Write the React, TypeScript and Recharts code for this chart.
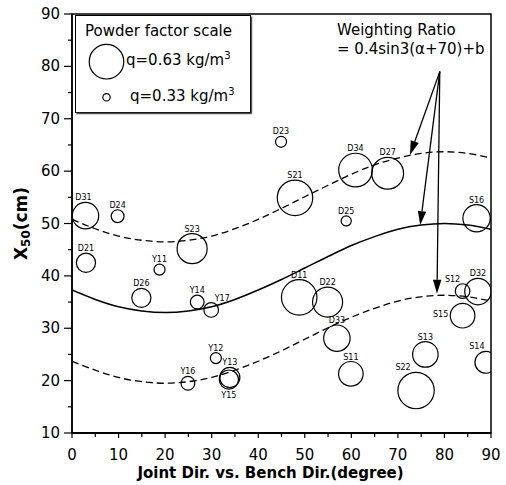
import React from 'react';
import {
  ComposedChart,
  XAxis,
  YAxis,
  Line,
  Scatter,
  ReferenceLine,
  ReferenceArea,
  Legend,
  Customized,
} from 'recharts';

const FONT = '"DejaVu Sans", sans-serif';

// blast records
const blastIds = ['D31', 'D24', 'D21', 'Y11', 'D26', 'S23', 'Y14', 'Y17', 'Y16', 'Y12', 'Y13', 'Y15', 'D23', 'S21', 'D11', 'D22', 'D34', 'D27', 'D25', 'S16', 'S12', 'D32', 'S15', 'D33', 'S11', 'S13', 'S22', 'S14'];
const jointAngle = [2.9, 9.8, 3.0, 18.8, 14.9, 25.8, 26.9, 29.9, 24.9, 30.9, 33.9, 33.7, 44.9, 47.9, 48.8, 54.9, 60.9, 67.8, 58.9, 86.9, 83.9, 87.2, 83.9, 56.9, 59.9, 75.9, 73.9, 88.9];
const x50 = [51.5, 51.4, 42.5, 41.2, 35.8, 45.2, 35.0, 33.5, 19.5, 24.3, 20.6, 20.2, 65.6, 54.9, 35.9, 35.0, 60.2, 59.6, 50.5, 51.0, 37.1, 37.0, 32.4, 28.1, 21.3, 25.0, 18.1, 23.5];
const powderFactor = [0.54, 0.39, 0.46, 0.37, 0.46, 0.58, 0.40, 0.41, 0.40, 0.37, 0.47, 0.46, 0.37, 0.64, 0.64, 0.58, 0.62, 0.60, 0.36, 0.55, 0.41, 0.54, 0.52, 0.54, 0.52, 0.53, 0.65, 0.49];

// weighting ratio curves (upper / fitted / lower)
const curveAngles = [0, 5, 10, 15, 20, 25, 30, 35, 40, 45, 50, 55, 60, 65, 70, 75, 80, 85, 90];
const upperCurve = [50.8, 49.0, 47.6, 46.8, 46.5, 46.8, 47.6, 49.0, 50.8, 52.9, 55.1, 57.3, 59.4, 61.2, 62.5, 63.4, 63.7, 63.4, 62.5];
const middleCurve = [37.3, 35.5, 34.1, 33.3, 33.0, 33.3, 34.1, 35.5, 37.3, 39.3, 41.5, 43.7, 45.8, 47.5, 48.9, 49.7, 50.0, 49.7, 48.9];
const lowerCurve = [23.7, 22.0, 20.6, 19.8, 19.5, 19.8, 20.6, 22.0, 23.7, 25.7, 27.9, 30.1, 32.1, 33.8, 35.2, 36.0, 36.3, 36.0, 35.2];

const xTicks = [0, 5, 10, 15, 20, 25, 30, 35, 40, 45, 50, 55, 60, 65, 70, 75, 80, 85, 90];
const yTicks = [10, 15, 20, 25, 30, 35, 40, 45, 50, 55, 60, 65, 70, 75, 80, 85, 90];

const legendScale = [0.63, 0.33];

// annotation arrows: common start and the tip on each curve
const arrowStart = { x: 79.0, y: 79.0 };
const arrowTips = [
  { x: 72.6, y: 63.1 },
  { x: 74.8, y: 49.7 },
  { x: 78.4, y: 36.6 },
];

const bubbles = blastIds.map((id, i) => ({
  id,
  angle: jointAngle[i],
  x50: x50[i],
  q: powderFactor[i],
}));

const curves = curveAngles.map((a, i) => ({
  angle: a,
  upper: upperCurve[i],
  middle: middleCurve[i],
  lower: lowerCurve[i],
}));

// label placement tweaks where the figure moves a tag off the top
const labelShift: Record<string, { dx?: number; place?: 'below' | 'left' }> = {
  D31: { dx: -2 },
  Y17: { dx: 11 },
  S12: { dx: -10 },
  S22: { dx: -13 },
  S14: { dx: -9 },
  Y15: { place: 'below' },
  S15: { place: 'left' },
};

const radiusOf = (q: number) => 3.7 + (q - 0.33) * 45.3;

const Bubble = (props: any) => {
  const { cx, cy, payload } = props;
  if (cx == null || cy == null) return null;
  const r = radiusOf(payload.q);
  const tweak = labelShift[payload.id] || {};
  let tx = cx + (tweak.dx || 0);
  let ty = cy - r - 2;
  let anchor: 'middle' | 'end' = 'middle';
  if (tweak.place === 'below') ty = cy + r + 9;
  if (tweak.place === 'left') {
    tx = cx - r - 2;
    ty = cy + 1;
    anchor = 'end';
  }
  return (
    <g>
      <circle cx={cx} cy={cy} r={r} fill="none" stroke="#000" strokeWidth={1.2} />
      <text x={tx} y={ty} textAnchor={anchor} fontSize={8} fontFamily={FONT} fill="#000">
        {payload.id}
      </text>
    </g>
  );
};

const XTick = (props: any) => {
  const { x, y, payload } = props;
  const major = payload.value % 10 === 0;
  return (
    <g>
      <line x1={x} x2={x} y1={y} y2={y + (major ? 5 : 4)} stroke="#000" strokeWidth={1.2} />
      {major && (
        <text x={x} y={y + 27} textAnchor="middle" fontSize={15} fontFamily={FONT} fill="#000">
          {payload.value}
        </text>
      )}
    </g>
  );
};

const YTick = (props: any) => {
  const { x, y, payload } = props;
  const major = payload.value % 10 === 0;
  return (
    <g>
      <line x1={x - (major ? 8 : 4)} x2={x} y1={y} y2={y} stroke="#000" strokeWidth={1.2} />
      {major && (
        <text x={x - 12} y={y + 5} textAnchor="end" fontSize={15} fontFamily={FONT} fill="#000">
          {payload.value}
        </text>
      )}
    </g>
  );
};

const XLabel = (props: any) => {
  const { x, y, width, height } = props.viewBox;
  return (
    <text x={x + width / 2 - 11} y={y + height - 7} textAnchor="middle" fontSize={15} fontWeight="bold" fontFamily={FONT} fill="#000">
      Joint Dir. vs. Bench Dir.(degree)
    </text>
  );
};

const YLabel = (props: any) => {
  const { y, height } = props.viewBox;
  const cx = 27;
  const cy = y + height / 2;
  return (
    <text x={cx} y={cy} textAnchor="middle" fontSize={17} fontWeight="bold" fontFamily={FONT} fill="#000" transform={`rotate(-90, ${cx}, ${cy})`}>
      X
      <tspan fontSize={12} dy={3}>50</tspan>
      <tspan dy={-3}>(cm)</tspan>
    </text>
  );
};

const Arrow = (props: any) => {
  const { x1, y1, x2, y2 } = props;
  if ([x1, y1, x2, y2].some((v) => v == null)) return null;
  const ang = Math.atan2(y2 - y1, x2 - x1);
  const len = 14;
  const hw = 4.2;
  const bx = x2 - len * Math.cos(ang);
  const by = y2 - len * Math.sin(ang);
  const px = -Math.sin(ang) * hw;
  const py = Math.cos(ang) * hw;
  return (
    <g>
      <line x1={x1} y1={y1} x2={bx} y2={by} stroke="#000" strokeWidth={1.3} />
      <polygon points={`${x2},${y2} ${bx + px},${by + py} ${bx - px},${by - py}`} fill="#000" />
    </g>
  );
};

const PowderLegend = () => (
  <svg width={180} height={102} style={{ display: 'block' }}>
    <rect x={0.5} y={0.5} width={175} height={97} fill="#fff" stroke="#000" strokeWidth={1} />
    <line x1={1.5} y1={98.5} x2={176.5} y2={98.5} stroke="#555" strokeWidth={1.5} />
    <line x1={176.5} y1={1.5} x2={176.5} y2={98.5} stroke="#555" strokeWidth={1.5} />
    <text x={10} y={21} fontSize={15} fontFamily={FONT} fill="#000">Powder factor scale</text>
    {legendScale.map((q, i) => (
      <g key={q}>
        <circle cx={31.5} cy={i === 0 ? 46.7 : 82.3} r={radiusOf(q)} fill="none" stroke="#000" strokeWidth={1.2} />
        <text x={i === 0 ? 51 : 55} y={i === 0 ? 50 : 86} fontSize={15} fontFamily={FONT} fill="#000">
          {`q=${q.toFixed(2)} kg/m`}
          <tspan fontSize={10} dy={-6}>3</tspan>
        </text>
      </g>
    ))}
  </svg>
);

const Annotation = () => (
  <g>
    <text x={337} y={34.5} fontSize={15} fontFamily={FONT} fill="#000">Weighting Ratio</text>
    <text x={337} y={54} fontSize={15} fontFamily={FONT} fill="#000">= 0.4sin3(α+70)+b</text>
  </g>
);

export default function App() {
  return (
    <div style={{ position: 'absolute', left: 0, top: 0, width: 506, height: 485, background: '#fff' }}>
      <ComposedChart width={506} height={485} margin={{ top: 14, right: 15, left: 0, bottom: 0 }}>
        <XAxis
          type="number"
          dataKey="angle"
          domain={[0, 90]}
          ticks={xTicks}
          interval={0}
          tickSize={0}
          tickMargin={0}
          tickLine={false}
          tick={<XTick />}
          height={52}
          axisLine={{ stroke: '#000', strokeWidth: 2 }}
          allowDataOverflow
          label={XLabel}
        />
        <YAxis
          type="number"
          dataKey="x50"
          domain={[10, 90]}
          ticks={yTicks}
          interval={0}
          tickSize={0}
          tickMargin={0}
          tickLine={false}
          tick={<YTick />}
          width={72}
          axisLine={{ stroke: '#000', strokeWidth: 1.5 }}
          allowDataOverflow
          label={YLabel}
        />
        <ReferenceArea x1={0} x2={90} y1={10} y2={90} fill="none" stroke="#000" strokeWidth={1.5} />
        <Line data={curves} dataKey="upper" type="monotone" stroke="#000" strokeWidth={1.3} strokeDasharray="7 4" dot={false} isAnimationActive={false} legendType="none" />
        <Line data={curves} dataKey="middle" type="monotone" stroke="#000" strokeWidth={1.5} dot={false} isAnimationActive={false} legendType="none" />
        <Line data={curves} dataKey="lower" type="monotone" stroke="#000" strokeWidth={1.3} strokeDasharray="7 4" dot={false} isAnimationActive={false} legendType="none" />
        <Scatter data={bubbles} shape={Bubble} isAnimationActive={false} legendType="none" />
        {arrowTips.map((t, i) => (
          <ReferenceLine key={i} segment={[arrowStart, t]} shape={Arrow} />
        ))}
        <Customized component={Annotation} />
        <Legend
          layout="vertical"
          align="center"
          verticalAlign="middle"
          content={PowderLegend}
          wrapperStyle={{ left: 75, top: 15, width: 180, height: 102 }}
        />
      </ComposedChart>
    </div>
  );
}
